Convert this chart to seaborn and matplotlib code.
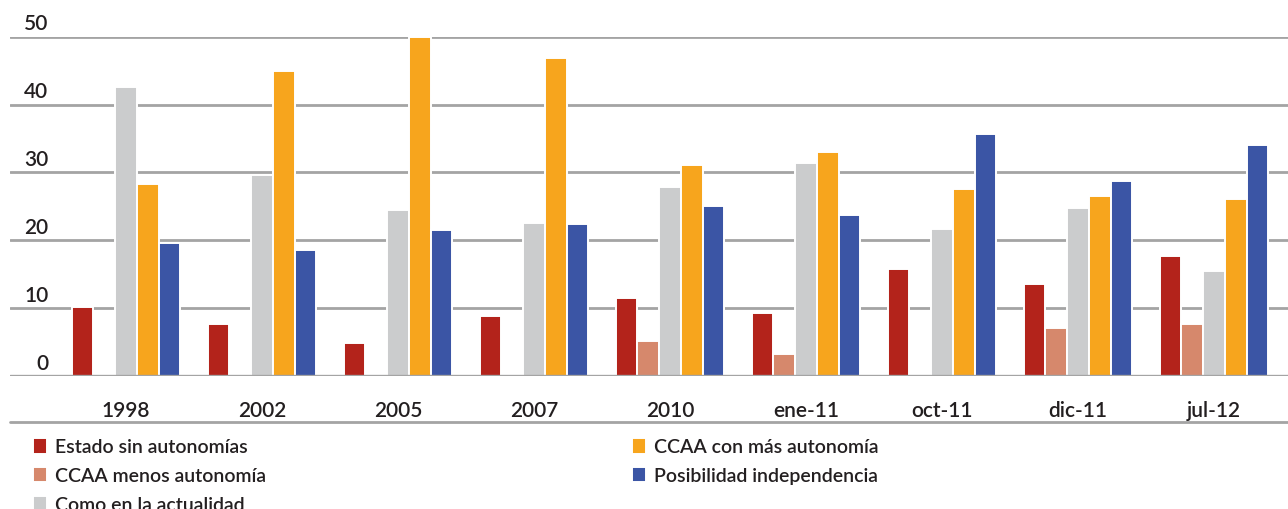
import numpy as np
import pandas as pd
import matplotlib
matplotlib.use("Agg")
import matplotlib.pyplot as plt
import matplotlib.transforms as mtransforms
from matplotlib.lines import Line2D
import seaborn as sns

# Survey periods
periods = ["1998", "2002", "2005", "2007", "2010", "ene-11", "oct-11", "dic-11", "jul-12"]

# Preferred territorial model (%)
estado_sin_autonomias = [10.2, 7.6, 4.8, 8.9, 11.5, 9.3, 15.7, 13.6, 17.7]
ccaa_menos_autonomia = [np.nan, np.nan, np.nan, np.nan, 5.2, 3.3, np.nan, 7.1, 7.7]
como_en_la_actualidad = [42.6, 29.6, 24.5, 22.6, 27.9, 31.4, 21.7, 24.8, 15.4]
ccaa_con_mas_autonomia = [28.3, 44.9, 50.0, 46.9, 31.1, 33.0, 27.6, 26.5, 26.1]
posibilidad_independencia = [19.6, 18.6, 21.5, 22.4, 25.1, 23.7, 35.7, 28.8, 34.1]

series_names = [
    "Estado sin autonomías",
    "CCAA menos autonomía",
    "Como en la actualidad",
    "CCAA con más autonomía",
    "Posibilidad independencia",
]
series_values = [
    estado_sin_autonomias,
    ccaa_menos_autonomia,
    como_en_la_actualidad,
    ccaa_con_mas_autonomia,
    posibilidad_independencia,
]
colors = ["#B3231B", "#D6886C", "#CBCCCD", "#F7A51D", "#3B55A5"]
y_ticks = [0, 10, 20, 30, 40, 50]

rows = []
for name, vals in zip(series_names, series_values):
    for p, v in zip(periods, vals):
        rows.append({"periodo": p, "serie": name, "valor": v})
df = pd.DataFrame(rows)

sns.set_style("white")
plt.rcParams["font.family"] = ["Lato", "DejaVu Sans"]
text_color = "#231f20"
weight = "semibold"

W, H = 1288, 510
fig = plt.figure(figsize=(W / 100, H / 100), dpi=100)
ax_left, ax_right = 10 / W, 1.0
ax_bottom, ax_top = 1 - 377 / H, 1 - 37.7 / H
ax = fig.add_axes([ax_left, ax_bottom, ax_right - ax_left, ax_top - ax_bottom])

sns.barplot(
    data=df, x="periodo", y="valor", hue="serie",
    order=periods, hue_order=series_names, palette=colors,
    width=0.8, edgecolor="white", linewidth=1.4, saturation=1,
    ax=ax, legend=True,
)

ax.set_ylim(0, 50)
ax.set_xlim((10 - 126) / 136, (1288 - 126) / 136)
ax.set_axisbelow(True)
ax.yaxis.grid(True, color="#a4a4a4", linewidth=2.0)
ax.xaxis.grid(False)
for s in ax.spines.values():
    s.set_visible(False)
ax.axhline(0, color="#a4a4a4", linewidth=2.4, zorder=5)

ax.set_xlabel("")
ax.set_ylabel("")
ax.set_yticks(y_ticks)
ax.set_yticklabels([str(t) for t in y_ticks])
ax.tick_params(axis="both", length=0, colors=text_color, labelsize=15)
for lab in ax.get_xticklabels() + ax.get_yticklabels():
    lab.set_fontweight(weight)
ax.tick_params(axis="x", pad=17)
ax.tick_params(axis="y", pad=0)
shift = mtransforms.ScaledTranslation(0.385, 0.155, fig.dpi_scale_trans)
for lab in ax.get_yticklabels():
    lab.set_transform(lab.get_transform() + shift)

# separator under the category labels
ax.add_line(Line2D([0, 1], [(377 - 423) / (377 - 37.7)] * 2, transform=ax.transAxes,
                   color="#a4a4a4", linewidth=2.0, clip_on=False))

handles, labels = ax.get_legend_handles_labels()
ax.get_legend().remove()
leg = fig.legend(
    handles, labels, ncol=2, loc="upper left",
    bbox_to_anchor=(33 / W, 1 - 439 / H), frameon=False,
    fontsize=14, handlelength=0.72, handleheight=0.85, handletextpad=0.42,
    labelspacing=0.58, columnspacing=18.8, borderpad=0, borderaxespad=0,
)
for t in leg.get_texts():
    t.set_color(text_color)
    t.set_fontweight(weight)

fig.savefig("out.png", dpi=100)
